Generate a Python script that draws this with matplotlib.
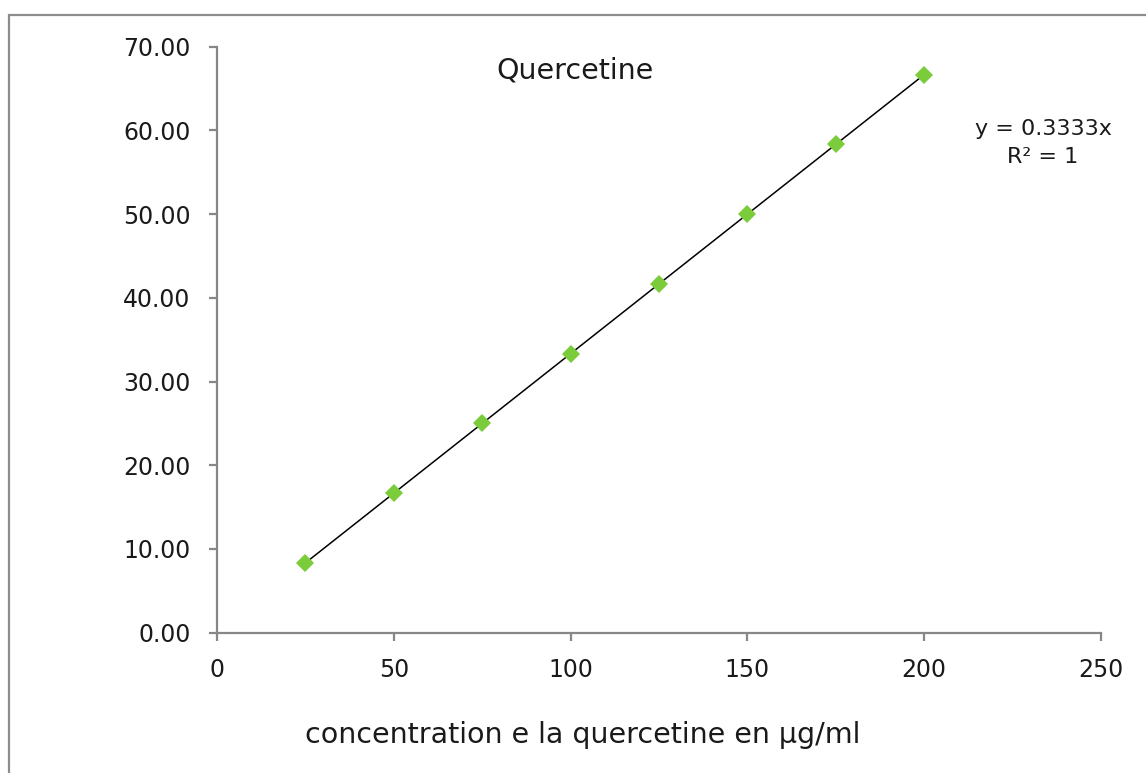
import matplotlib
matplotlib.use("Agg")
import matplotlib.pyplot as plt
import numpy as np
from matplotlib.patches import Rectangle

# Datos: concentration (µg/ml) et valeurs mesurées
conc = [25, 50, 75, 100, 125, 150, 175, 200]
valeurs = [8.33, 16.67, 25.00, 33.33, 41.67, 50.00, 58.33, 66.67]

x_ticks = [0, 50, 100, 150, 200, 250]
y_ticks = [0, 10, 20, 30, 40, 50, 60, 70]

plt.rcParams['font.family'] = ['DejaVu Sans']

fig = plt.figure(figsize=(11.46, 7.73), dpi=100)
ax = fig.add_axes([217/1146, 1 - 632.7/773, (1101-217)/1146, (632.7-46.7)/773])

# Cadre gris autour du graphique
fig.patches.append(Rectangle((9/1146, -0.1), 1.2, 1 - 15/773 + 0.1,
                             transform=fig.transFigure, fill=False,
                             edgecolor='#8c8c8c', linewidth=1.6))

# Courbe de tendance (régression passant par l'origine)
xa = np.array(conc, dtype=float)
ya = np.array(valeurs, dtype=float)
pente = np.sum(xa * ya) / np.sum(xa * xa)
ax.plot([conc[0], conc[-1]], [pente * conc[0], pente * conc[-1]],
        color='black', linewidth=1.1, zorder=2)

ax.plot(conc, valeurs, linestyle='none', marker='D', markersize=9.5,
        color='#7ACC3B', markeredgewidth=0, zorder=3)

ax.set_xlim(0, 250)
ax.set_ylim(0, 70)
ax.set_xticks(x_ticks)
ax.set_yticks(y_ticks)
ax.set_yticklabels([f"{v:.2f}" for v in y_ticks])

for s in ['top', 'right']:
    ax.spines[s].set_visible(False)
for s in ['left', 'bottom']:
    ax.spines[s].set_color('#878787')
    ax.spines[s].set_linewidth(1.6)

ax.tick_params(axis='both', direction='out', length=6, width=1.6,
               color='#878787', labelsize=17, labelcolor='#1a1a1a')
ax.tick_params(axis='x', pad=12)
ax.tick_params(axis='y', pad=13)

fig.text(575/1146, 1 - 70/773, 'Quercetine', ha='center', va='center',
         fontsize=20.5, color='#1a1a1a')
fig.text(1043/1146, 1 - 143/773, 'y = 0.3333x\nR² = 1', ha='center', va='center',
         multialignment='center', fontsize=16, color='#1a1a1a', linespacing=1.55)
fig.text(583/1146, 1 - 735/773, 'concentration e la quercetine en µg/ml',
         ha='center', va='center', fontsize=20.5, color='#1a1a1a')

fig.savefig('out.png', dpi=100)
